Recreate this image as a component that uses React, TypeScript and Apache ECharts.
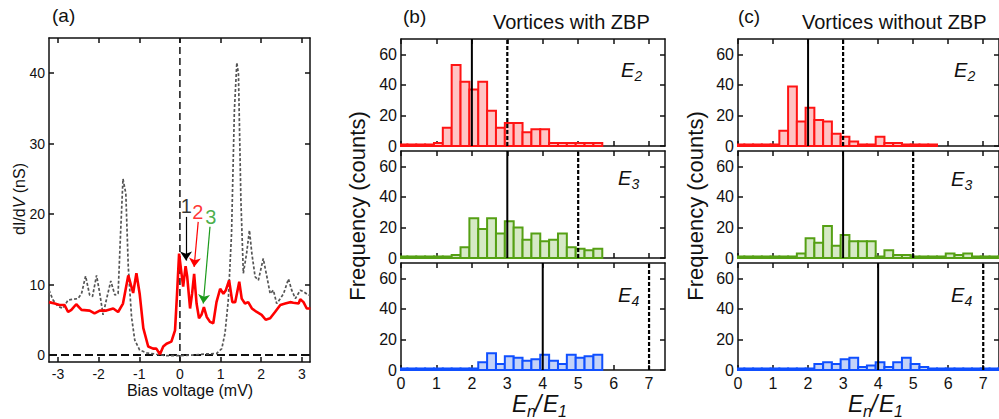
import React, { useEffect, useRef } from "react";
import * as echarts from "echarts";

const FONT = '"Liberation Sans", Arial, sans-serif';

// ---------- Panel (a): dI/dV spectra ----------
const RED_BIAS = [-3.22, -3.08, -2.96, -2.84, -2.75, -2.67, -2.55, -2.42, -2.22, -2.10, -1.97, -1.81, -1.64, -1.52, -1.40, -1.27, -1.15, -1.07, -0.99, -0.90, -0.78, -0.66, -0.58, -0.49, -0.41, -0.33, -0.21, -0.12, -0.07, -0.02, 0.04, 0.08, 0.14, 0.18, 0.25, 0.30, 0.35, 0.41, 0.47, 0.53, 0.59, 0.66, 0.74, 0.82, 0.90, 0.99, 1.07, 1.13, 1.21, 1.29, 1.36, 1.46, 1.52, 1.60, 1.68, 1.77, 1.89, 2.01, 2.11, 2.22, 2.34, 2.47, 2.59, 2.71, 2.79, 2.92, 2.96, 3.04, 3.12, 3.21];
const RED_DIDV = [7.5, 7.3, 7.1, 7.1, 6.1, 6.4, 7.2, 6.4, 6.3, 5.9, 6.3, 6.3, 6.6, 6.1, 7.3, 11.3, 8.8, 11.6, 8.7, 3.8, 1.2, 0.9, 0.9, 0.1, 1.2, 1.6, 1.9, 3.5, 8.7, 14.4, 11.5, 9.7, 12.6, 11.1, 6.6, 8.7, 11.5, 7.3, 5.2, 5.7, 6.8, 5.4, 4.7, 4.5, 7.5, 9.4, 8.7, 9.2, 10.6, 7.5, 7.5, 10.4, 8.0, 7.3, 7.5, 6.6, 6.1, 5.7, 5.0, 5.2, 6.1, 7.1, 7.3, 7.5, 7.4, 7.3, 7.9, 7.5, 6.6, 6.6];

const GREY_BIAS = [-3.22, -3.12, -3.0, -2.88, -2.75, -2.63, -2.51, -2.42, -2.32, -2.22, -2.15, -2.05, -1.97, -1.89, -1.81, -1.70, -1.60, -1.52, -1.46, -1.40, -1.33, -1.27, -1.19, -1.11, -0.99, -0.82, -0.58, -0.33, 0, 0.33, 0.66, 0.90, 1.03, 1.11, 1.19, 1.27, 1.34, 1.40, 1.44, 1.50, 1.56, 1.64, 1.71, 1.77, 1.85, 1.93, 2.05, 2.14, 2.22, 2.30, 2.38, 2.47, 2.55, 2.67, 2.75, 2.84, 2.96, 3.04, 3.16, 3.21];
const GREY_DIDV = [9.2, 7.8, 6.9, 6.6, 7.8, 7.9, 8.0, 8.7, 11.2, 8.5, 8.3, 11.3, 8.7, 5.7, 7.8, 10.5, 8.5, 8.7, 17.2, 25.0, 22.9, 12.5, 5.4, 2.1, 0.7, 0.3, 0.1, -0.1, -0.1, 0.0, 0.15, 0.2, 0.9, 3.1, 7.8, 17.2, 34.7, 41.5, 39.9, 22.0, 11.6, 14.4, 17.7, 14.4, 11.1, 10.6, 13.7, 11.1, 8.7, 9.2, 7.3, 8.0, 8.7, 10.8, 9.2, 8.0, 9.2, 9.0, 8.5, 8.5];

const A_XTICKS = [-3, -2, -1, 0, 1, 2, 3];
const A_YTICKS = [0, 10, 20, 30, 40];

const PEAK_LABELS = ["1", "2", "3"];
const PEAK_LABEL_POS = [[0.16, 21.2], [0.44, 20.3], [0.76, 19.6]];
const PEAK_ARROW_FROM = [[0.15, 19.6], [0.45, 18.9], [0.74, 18.2]];
const PEAK_ARROW_TO = [[0.15, 13.4], [0.35, 12.5], [0.575, 7.3]];
const PEAK_COLORS = ["#000000", "#ff0000", "#1a9a1a"];

// ---------- Panels (b), (c): histograms ----------
const BIN_CENTERS = [0.055, 0.305, 0.555, 0.805, 1.055, 1.305, 1.555, 1.805, 2.055, 2.305, 2.555, 2.805, 3.055, 3.305, 3.555, 3.805, 4.055, 4.305, 4.555, 4.805, 5.055, 5.305, 5.555, 5.805, 6.055, 6.305, 6.555, 6.805, 7.055, 7.305, 7.555];
const BIN_WIDTH = 0.25;

const B_E2 = [1, 1, 1, 1, 2, 12, 53, 42, 37, 42, 23, 12, 15, 15, 9, 11, 11, 2, 2, 2, 2, 2, 2, 0, 0, 0, 0, 0, 0, 0, 0];
const B_E3 = [1, 1, 1, 1, 1, 1, 2, 7, 26, 19, 26, 16, 24, 20, 12, 16, 11, 12, 16, 7, 6, 5, 6, 0, 0, 0, 0, 0, 0, 0, 0];
const B_E4 = [1, 1, 1, 1, 1, 1, 1, 1, 1, 5, 11, 4, 9, 8, 6, 7, 10, 6, 4, 10, 8, 9, 10, 0, 0, 0, 0, 0, 0, 0, 0];
const C_E2 = [1, 1, 1, 1, 1, 10, 39, 16, 25, 17, 16, 8, 6, 3, 1, 1, 6, 2, 2, 1, 1, 1, 1, 0, 0, 0, 0, 0, 0, 0, 0];
const C_E3 = [1, 1, 1, 1, 1, 1, 1, 3, 13, 10, 21, 8, 15, 11, 11, 11, 1, 5, 2, 2, 1, 1, 1, 1, 3, 2, 3, 1, 1, 1, 1];
const C_E4 = [1, 1, 1, 1, 1, 1, 1, 1, 1, 4, 5, 4, 7, 8, 2, 3, 5, 2, 5, 8, 4, 2, 1, 1, 1, 1, 1, 1, 1, 1, 1];

const SOLID_REF = [2, 3, 4];
const DASHED_REF = [3, 5, 7];
const SUBSCRIPTS = ["2", "3", "4"];

const H_XTICKS = [0, 1, 2, 3, 4, 5, 6, 7];
const H_YTICKS = [0, 20, 40, 60];

const STYLES = [
  { stroke: "#ff1414", fill: "#ffc4c4" },
  { stroke: "#55a014", fill: "#d6e9c6" },
  { stroke: "#0f4fff", fill: "#c3d2f8" },
];

const AXIS_COLOR = "#111";

function makeAxes(gi: number, xr: number[], yr: number[], xt: number[], yt: number[], showX: boolean, fs: number) {
  const line = { show: true, onZero: false, lineStyle: { color: AXIS_COLOR, width: 1.5 } };
  const tick = (vals: number[]) => ({ show: true, inside: true, length: 5, customValues: vals, lineStyle: { color: AXIS_COLOR, width: 1.5 } });
  const base = (vals: number[], show: boolean, margin: number) => ({
    show, customValues: vals, margin, fontSize: fs, color: AXIS_COLOR, fontFamily: FONT,
  });
  const xa = [
    { type: "value", gridIndex: gi, position: "bottom", min: xr[0], max: xr[1], axisLine: line, axisTick: tick(xt), axisLabel: base(xt, showX, 5), splitLine: { show: false } },
    { type: "value", gridIndex: gi, position: "top", min: xr[0], max: xr[1], axisLine: line, axisTick: tick(xt), axisLabel: { show: false }, splitLine: { show: false } },
  ];
  const ya = [
    { type: "value", gridIndex: gi, position: "left", min: yr[0], max: yr[1], axisLine: line, axisTick: tick(yt), axisLabel: base(yt, true, 4), splitLine: { show: false } },
    { type: "value", gridIndex: gi, position: "right", min: yr[0], max: yr[1], axisLine: line, axisTick: tick(yt), axisLabel: { show: false }, splitLine: { show: false } },
  ];
  return { xa, ya };
}

function histSeries(gi: number, counts: number[], st: { stroke: string; fill: string }) {
  const half = BIN_WIDTH / 2;
  return {
    type: "custom",
    xAxisIndex: gi * 2,
    yAxisIndex: gi * 2,
    data: BIN_CENTERS.map((c, i) => [c, counts[i]]),
    renderItem: (params: any, api: any) => {
      const c = api.value(0);
      const v = api.value(1);
      if (!v) return null;
      const p0 = api.coord([c - half, v]);
      const p1 = api.coord([c + half, 0]);
      const cs = params.coordSys;
      const shape = echarts.graphic.clipRectByRect(
        { x: p0[0], y: p0[1], width: p1[0] - p0[0], height: p1[1] - p0[1] },
        { x: cs.x, y: cs.y, width: cs.width, height: cs.height }
      );
      if (!shape) return null;
      return { type: "rect", shape, style: { fill: st.fill, stroke: st.stroke, lineWidth: 2 } };
    },
    z: 2,
  };
}

function refLine(gi: number, x: number, dashed: boolean) {
  return {
    type: "line",
    xAxisIndex: gi * 2,
    yAxisIndex: gi * 2,
    data: [[x, 0], [x, 70]],
    showSymbol: false,
    symbol: "none",
    silent: true,
    lineStyle: { color: "#000", width: dashed ? 2.2 : 2, type: dashed ? [4, 2] : "solid" },
    z: 3,
  };
}

function eLabel(x: number, y: number, sub: string, fs: number): any[] {
  return [
    { type: "text", x, y, style: { text: "E", fontSize: fs, fontStyle: "italic", fontFamily: FONT, fill: "#111", align: "left", verticalAlign: "middle" } },
    { type: "text", x: x + fs * 0.68, y: y + fs * 0.32, style: { text: sub, fontSize: fs * 0.7, fontStyle: "italic", fontFamily: FONT, fill: "#111", align: "left", verticalAlign: "middle" } },
  ];
}

function enLabel(x: number, y: number): any[] {
  const fs = 23;
  const t = (dx: number, dy: number, text: string, size: number) => ({
    type: "text", x: x + dx, y: y + dy,
    style: { text, fontSize: size, fontStyle: "italic", fontFamily: FONT, fill: "#111", align: "left", verticalAlign: "middle" },
  });
  return [t(0, 0, "E", fs), t(15, 7, "n", 16), t(23, 0, "/", fs), t(31, 0, "E", fs), t(46, 7, "1", 16)];
}

function plainText(x: number, y: number, text: string, fs: number, align = "left", rotation = 0, rich?: any): any {
  return {
    type: "text", x, y, rotation,
    style: { text, fontSize: fs, fontFamily: FONT, fill: "#111", align, verticalAlign: "middle", rich },
  };
}

function buildOption(): any {
  const grids: any[] = [];
  const xAxis: any[] = [];
  const yAxis: any[] = [];
  const series: any[] = [];

  // Panel (a)
  grids.push({ left: 49, top: 38, width: 261, height: 324 });
  {
    const { xa, ya } = makeAxes(0, [-3.22, 3.2], [-1, 45], A_XTICKS, A_YTICKS, true, 14);
    xAxis.push(...xa);
    yAxis.push(...ya);
  }
  const histTops = [39, 151, 263];
  histTops.forEach((t) => grids.push({ left: 401, top: t, width: 264, height: 107 }));
  histTops.forEach((t) => grids.push({ left: 738, top: t, width: 263, height: 107 }));
  for (let g = 1; g <= 6; g++) {
    const showX = g === 3 || g === 6;
    const { xa, ya } = makeAxes(g, [0, 7.45], [0, 70], H_XTICKS, H_YTICKS, showX, 16);
    xAxis.push(...xa);
    yAxis.push(...ya);
  }

  // Panel (a) series
  series.push({
    type: "line", xAxisIndex: 0, yAxisIndex: 0, data: [[0, -1], [0, 45]], symbol: "none", silent: true,
    lineStyle: { color: "#111", width: 1.5, type: [7, 4] }, z: 1,
  });
  series.push({
    type: "line", xAxisIndex: 0, yAxisIndex: 0, data: [[-3.22, 0], [3.2, 0]], symbol: "none", silent: true,
    lineStyle: { color: "#111", width: 2, type: [8, 4] }, z: 1,
  });
  series.push({
    type: "line", xAxisIndex: 0, yAxisIndex: 0, data: GREY_BIAS.map((x, i) => [x, GREY_DIDV[i]]), symbol: "none",
    lineStyle: { color: "#555", width: 1.7, type: [3, 2] }, z: 2,
  });
  series.push({
    type: "line", xAxisIndex: 0, yAxisIndex: 0, data: RED_BIAS.map((x, i) => [x, RED_DIDV[i]]), symbol: "none",
    lineStyle: { color: "#ff0000", width: 2.6 }, z: 3,
  });
  series.push({
    type: "scatter", xAxisIndex: 0, yAxisIndex: 0, symbolSize: 0, silent: true, z: 4,
    data: PEAK_LABELS.map((n, i) => ({
      value: PEAK_LABEL_POS[i], name: n,
      label: { show: true, formatter: n, position: "inside", color: PEAK_COLORS[i], fontSize: 20, fontFamily: FONT },
    })),
    markLine: {
      silent: true,
      symbol: ["none", "arrow"],
      symbolSize: 9,
      label: { show: false },
      emphasis: { disabled: true },
      data: PEAK_LABELS.map((_, i) => [
        { coord: PEAK_ARROW_FROM[i], lineStyle: { color: PEAK_COLORS[i], width: 1.2, type: "solid" }, itemStyle: { color: PEAK_COLORS[i] } },
        { coord: PEAK_ARROW_TO[i], lineStyle: { color: PEAK_COLORS[i], width: 1.2, type: "solid" }, itemStyle: { color: PEAK_COLORS[i] } },
      ]),
    },
  });

  // Histograms
  const panels = [B_E2, B_E3, B_E4, C_E2, C_E3, C_E4];
  panels.forEach((counts, idx) => {
    const g = idx + 1;
    const row = idx % 3;
    series.push(histSeries(g, counts, STYLES[row]));
    series.push(refLine(g, SOLID_REF[row], false));
    series.push(refLine(g, DASHED_REF[row], true));
  });

  const graphic: any[] = [
    plainText(52, 15, "(a)", 19),
    plainText(403, 16, "(b)", 19),
    plainText(738, 16, "(c)", 19),
    plainText(493, 22, "Vortices with ZBP", 20),
    plainText(802, 22, "Vortices without ZBP", 20),
    plainText(357, 206, "Frequency (counts)", 22, "center", Math.PI / 2),
    plainText(695, 206, "Frequency (counts)", 22, "center", Math.PI / 2),
    plainText(19, 199, "dI/d{i|V} (nS)", 16, "center", Math.PI / 2, { i: { fontStyle: "italic", fontSize: 16, fontFamily: FONT, fill: "#111" } }),
    plainText(190, 390, "Bias voltage (mV)", 16, "center"),
    ...eLabel(621, 70, SUBSCRIPTS[0], 20),
    ...eLabel(618, 178, SUBSCRIPTS[1], 20),
    ...eLabel(618, 295, SUBSCRIPTS[2], 20),
    ...eLabel(954, 70, SUBSCRIPTS[0], 20),
    ...eLabel(951, 179, SUBSCRIPTS[1], 20),
    ...eLabel(951, 295, SUBSCRIPTS[2], 20),
    ...enLabel(512, 404),
    ...enLabel(848, 404),
  ];

  return {
    animation: false,
    backgroundColor: "#ffffff",
    grid: grids,
    xAxis,
    yAxis,
    series,
    graphic,
  };
}

export default function App() {
  const ref = useRef<HTMLDivElement>(null);
  useEffect(() => {
    document.body.style.margin = "0";
    const chart = echarts.init(ref.current as HTMLDivElement, null, { renderer: "svg" });
    chart.setOption(buildOption());
    return () => chart.dispose();
  }, []);
  return <div ref={ref} style={{ width: 999, height: 419 }} />;
}
